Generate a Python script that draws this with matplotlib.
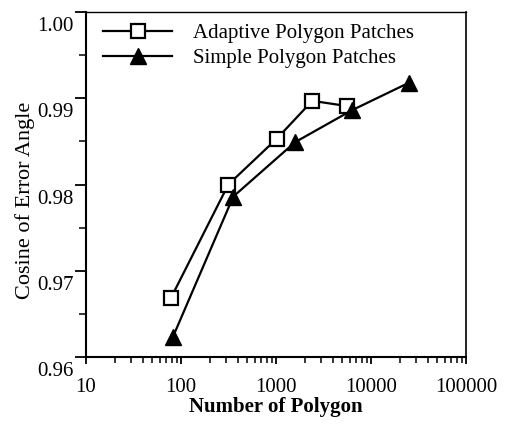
import matplotlib
matplotlib.use("Agg")
import matplotlib.pyplot as plt
import matplotlib.transforms as mtransforms
from matplotlib.ticker import LogLocator, FixedLocator, NullFormatter

plt.rcParams['font.family'] = ['Liberation Serif', 'DejaVu Serif']

adaptive_n = [78, 315, 1017, 2410, 5550]
adaptive_cos = [0.9668, 0.9800, 0.9853, 0.9897, 0.9891]
simple_n = [82, 355, 1585, 6270, 25100]
simple_cos = [0.9623, 0.9786, 0.9849, 0.9886, 0.9918]

x_ticks = [10, 100, 1000, 10000, 100000]
x_ticklabels = ['10', '100', '1000', '10000', '100000']
y_ticks = [0.96, 0.97, 0.98, 0.99, 1.00]
y_ticklabels = ['0.96', '0.97', '0.98', '0.99', '1.00']

fig = plt.figure(figsize=(5.07, 4.29), dpi=100)
ax = fig.add_axes([86/507, 1-357/429, (466-86)/507, (357-12)/429])

ax.plot(adaptive_n, adaptive_cos, color='black', lw=1.6, marker='s', ms=10,
        mfc='white', mec='black', mew=1.6, label='Adaptive Polygon Patches')
ax.plot(simple_n, simple_cos, color='black', lw=1.6, marker='^', ms=11,
        mfc='black', mec='black', label='Simple Polygon Patches')

ax.set_xscale('log')
ax.set_xlim(10, 100000)
ax.set_ylim(0.96, 1.00)
ax.set_xticks(x_ticks)
ax.set_xticklabels(x_ticklabels, fontsize=15)
ax.xaxis.set_minor_locator(LogLocator(base=10, subs=range(2, 10)))
ax.xaxis.set_minor_formatter(NullFormatter())
ax.set_yticks(y_ticks)
ax.set_yticklabels(y_ticklabels, fontsize=15)
ax.yaxis.set_minor_locator(FixedLocator([0.965, 0.975, 0.985, 0.995]))

ax.tick_params(axis='x', which='major', direction='out', length=5, width=1.3, pad=10)
ax.tick_params(axis='x', which='minor', direction='out', length=4, width=1.1)
ax.tick_params(axis='y', which='major', direction='out', length=8, width=1.3, pad=1)
ax.tick_params(axis='y', which='minor', direction='out', length=5, width=1.1)

off = mtransforms.ScaledTranslation(0, -12/100, fig.dpi_scale_trans)
for lab in ax.get_yticklabels():
    lab.set_transform(lab.get_transform() + off)

for s in ax.spines.values():
    s.set_linewidth(1.5)
ax.spines['top'].set_linewidth(1.0)
ax.spines['right'].set_linewidth(1.2)

ax.set_xlabel('Number of Polygon', fontsize=15, fontweight='bold', labelpad=0)
ax.set_ylabel('Cosine of Error Angle', fontsize=16, labelpad=0)
ax.yaxis.set_label_coords(-0.135, 0.455)

ax.legend(loc='upper left', frameon=False, fontsize=15, handlelength=3.3,
          handletextpad=1.0, borderaxespad=0.15, labelspacing=0.25,
          bbox_to_anchor=(0.015, 1.0))

fig.savefig('out.png', dpi=100)
